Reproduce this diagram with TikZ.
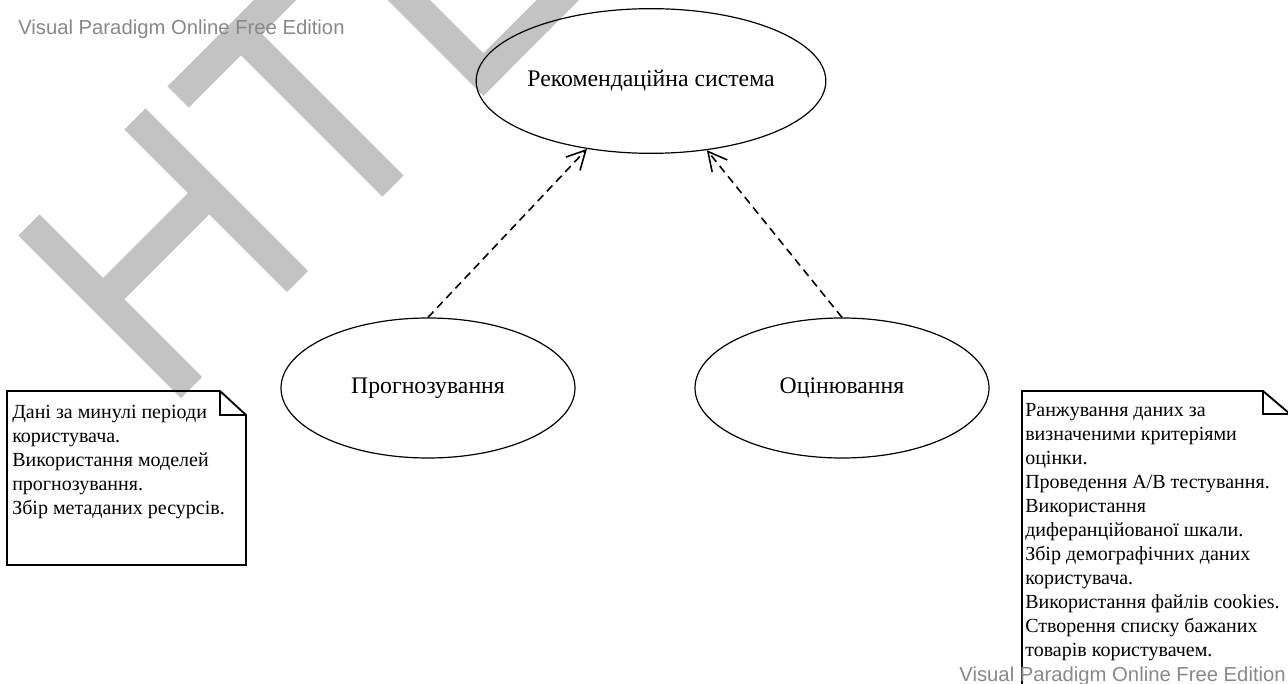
\documentclass[tikz,border=0pt]{standalone}
\usepackage{fontspec}
\setmainfont{Liberation Serif}
\newfontfamily\vpsans{Liberation Sans}
\usetikzlibrary{arrows.meta,positioning,shapes.geometric}
\definecolor{sombra}{HTML}{C3C3C3}
\definecolor{edicion}{HTML}{888888}

\begin{document}
\begin{tikzpicture}[x=0.75pt, y=-0.75pt,
    uso/.style={draw, ellipse, line width=0.9pt, inner sep=0pt,
                font=\fontsize{17.8}{21}\selectfont},
    dep/.style={dash pattern=on 6pt off 4pt, line width=1.2pt,
                -{Straight Barb[length=14pt, width=14.5pt]}},
    nota/.style={draw, line width=1.4pt},
    notatxt/.style={anchor=north west, inner sep=0pt, align=left,
                font=\fontsize{15}{18}\selectfont},
    vp/.style={text=edicion, inner sep=0pt, font=\vpsans\fontsize{15.2}{18}\selectfont}]
  \useasboundingbox (0,0) rectangle (1288,684);
  \clip (0,0) rectangle (1288,684);
  % letras de la marca de agua, giradas
  \begin{scope}[shift={(191.5,387.5)}, x={(0.53pt,0.53pt)}, y={(-0.53pt,0.53pt)},
                sombra, line width=22.5pt]
    \draw (0,0) -- (0,230);
    \draw (150,0) -- (150,230);
    \draw (0,125) -- (150,125);
    \draw (285,0) -- (285,215);
    \draw (196,215) -- (374,215);
    \draw (428,0) -- (428,260);
    \draw (413,15) -- (580,15);
  \end{scope}
  \node[vp, anchor=base west] (vpsup) at (18,35) {Visual Paradigm Online Free Edition};
  % casos de uso
  \node[uso, minimum width=219pt, minimum height=108.5pt] (rec) at (651,81) {Рекомендаційна система};
  \node[uso, minimum width=220.5pt, minimum height=105pt] (prog) at (428,388) {Прогнозування};
  \node[uso, minimum width=220.5pt, minimum height=105pt] (ocin) at (842,388) {Оцінювання};
  \draw[dep] (prog.north) -- (rec);
  \draw[dep] (ocin.north) -- (rec);
  % notas
  \draw[nota] (7,391) -- (220,391) -- (246,415) -- (246,565) -- (7,565) -- cycle;
  \draw[nota] (220,391) -- (220,415) -- (246,415);
  \node[notatxt] (notaprog) at (12,405) {Дані за минулі періоди\\користувача.\\Використання моделей\\прогнозування.\\Збір метаданих ресурсів.};
  \draw[nota] (1022,391) -- (1263,391) -- (1290,414) -- (1290,700) -- (1022,700) -- cycle;
  \draw[nota] (1263,391) -- (1263,414) -- (1290,414);
  \node[notatxt] (notaocin) at (1025,403) {Ранжування даних за\\визначеними критеріями\\оцінки.\\Проведення А/В тестування.\\Використання\\диферанційованої шкали.\\Збір демографічних даних\\користувача.\\Використання файлів cookies.\\Створення списку бажаних\\товарів користувачем.};
  \node[vp, anchor=base east] (vpinf) at (1286,681) {Visual Paradigm Online Free Edition};
\end{tikzpicture}
\end{document}
